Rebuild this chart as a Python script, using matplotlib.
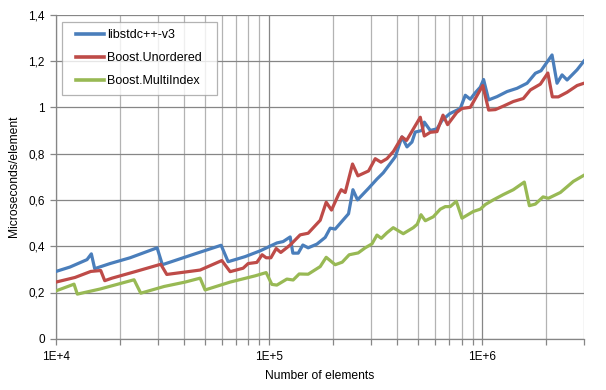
import matplotlib
matplotlib.use("Agg")
import numpy as np
import matplotlib.pyplot as plt
from matplotlib.ticker import LogLocator, FixedLocator, NullFormatter

# ---- data ----
libstd_x = [10000, 11630, 13980, 14650, 15190, 17930, 22260, 29810, 31550, 42570,
            59520, 64200, 77160, 90740, 108700, 116300, 125500, 129200, 136900, 143900,
            152400, 167500, 183200, 193400, 204100, 235700, 247200, 259800, 292600, 320400,
            343000, 390400, 419800, 443200, 467700, 484600, 521300, 534400, 570000, 612900,
            647000, 702300, 788400, 832200, 878500, 927100, 978600, 1014000, 1071000, 1172000,
            1306000, 1455000, 1622000, 1774000, 1886000, 2124000, 2242000, 2367000, 2499000, 2784000,
            3000000]
libstd_y = [0.291, 0.31, 0.342, 0.367, 0.303, 0.325, 0.35, 0.393, 0.32, 0.36,
            0.404, 0.333, 0.355, 0.38, 0.414, 0.42, 0.44, 0.37, 0.37, 0.405,
            0.393, 0.409, 0.438, 0.478, 0.474, 0.54, 0.644, 0.6, 0.65, 0.69,
            0.717, 0.786, 0.872, 0.829, 0.85, 0.893, 0.9, 0.936, 0.9, 0.907,
            0.943, 0.972, 0.995, 1.052, 1.035, 1.063, 1.087, 1.12, 1.032, 1.046,
            1.068, 1.082, 1.104, 1.147, 1.158, 1.226, 1.104, 1.14, 1.118, 1.162,
            1.2]

unordered_x = [10000, 12280, 14560, 16210, 16930, 18320, 23490, 31010, 33090, 47440,
               59970, 65610, 75490, 79690, 87570, 92710, 96810, 101900, 107900, 113400,
               125500, 139800, 152400, 173600, 185200, 196100, 212000, 217800, 227400, 246100,
               260900, 292600, 314600, 334600, 357000, 383300, 419800, 441300, 475900, 511700,
               534400, 570000, 612900, 654100, 687300, 759300, 803000, 878500, 1005000, 1071000,
               1151000, 1255000, 1398000, 1558000, 1681000, 1872000, 2030000, 2131000, 2274000, 2499000,
               2784000, 3000000]
unordered_y = [0.245, 0.265, 0.291, 0.295, 0.251, 0.262, 0.29, 0.322, 0.278, 0.297,
               0.338, 0.29, 0.305, 0.325, 0.33, 0.363, 0.35, 0.35, 0.39, 0.373,
               0.405, 0.449, 0.456, 0.512, 0.59, 0.556, 0.625, 0.644, 0.632, 0.755,
               0.704, 0.725, 0.778, 0.763, 0.778, 0.81, 0.872, 0.857, 0.908, 0.957,
               0.876, 0.892, 0.895, 0.966, 0.925, 0.978, 0.995, 1.0, 1.094, 0.988,
               0.99, 1.005, 1.025, 1.038, 1.075, 1.1, 1.148, 1.045, 1.045, 1.065,
               1.094, 1.104]

multi_x = [10000, 12150, 12590, 16090, 23240, 24980, 32140, 40330, 47440, 50060,
           65610, 85970, 96810, 103000, 108700, 121100, 129600, 138300, 152400, 173600,
           185200, 204100, 220200, 237400, 261700, 282200, 303600, 320400, 335700, 357000,
           382100, 425800, 474400, 495300, 515600, 540200, 588800, 635200, 670400, 707500,
           755000, 803000, 907400, 978600, 1033000, 1126000, 1255000, 1398000, 1574000, 1663000,
           1774000, 1928000, 2042000, 2324000, 2674000, 2980000]
multi_y = [0.207, 0.236, 0.193, 0.215, 0.255, 0.197, 0.226, 0.245, 0.262, 0.211,
           0.245, 0.272, 0.286, 0.235, 0.232, 0.258, 0.254, 0.28, 0.279, 0.312,
           0.352, 0.32, 0.331, 0.363, 0.371, 0.393, 0.41, 0.448, 0.434, 0.458,
           0.48, 0.454, 0.48, 0.495, 0.536, 0.51, 0.527, 0.56, 0.571, 0.571,
           0.594, 0.521, 0.55, 0.56, 0.58, 0.6, 0.623, 0.644, 0.677, 0.575,
           0.582, 0.613, 0.607, 0.632, 0.68, 0.705]

series_names = ["libstdc++-v3", "Boost.Unordered", "Boost.MultiIndex"]
y_ticks = [0, 0.2, 0.4, 0.6, 0.8, 1.0, 1.2, 1.4]
y_tick_labels = ["0", "0,2", "0,4", "0,6", "0,8", "1", "1,2", "1,4"]
x_ticks = [1e4, 1e5, 1e6]
x_tick_labels = ["1E+4", "1E+5", "1E+6"]

colors = ["#4a7ebb", "#be4b48", "#98b954"]
FONT = "Liberation Sans"
plt.rcParams["font.family"] = [FONT, "DejaVu Sans"]

fig = plt.figure(figsize=(6.06, 3.90), dpi=100)
ax = fig.add_axes([56 / 606, 1 - 338.8 / 390, 528 / 606, 324.1 / 390])

for xs, ys, c, name in zip([libstd_x, unordered_x, multi_x],
                           [libstd_y, unordered_y, multi_y], colors, series_names):
    ax.plot(xs, ys, color=c, lw=2.3, label=name, solid_joinstyle="round", zorder=3)

ax.set_xscale("log")
ax.set_xlim(1e4, 3e6)
ax.set_ylim(0, 1.4)

ax.xaxis.set_major_locator(FixedLocator(x_ticks))
ax.set_xticklabels(x_tick_labels)
ax.xaxis.set_minor_locator(LogLocator(base=10, subs=range(2, 10), numticks=20))
ax.xaxis.set_minor_formatter(NullFormatter())
ax.set_yticks(y_ticks)
ax.set_yticklabels(y_tick_labels)

ax.grid(which="major", axis="both", color="#868686", lw=0.9, zorder=0)
ax.grid(which="minor", axis="x", color="#b3b3b3", lw=0.9, zorder=0)

for side in ["top", "right"]:
    ax.spines[side].set_visible(False)
for side in ["left", "bottom"]:
    ax.spines[side].set_color("#868686")
    ax.spines[side].set_linewidth(0.9)

ax.tick_params(axis="both", which="both", direction="out", color="#868686",
               labelsize=8.5, labelcolor="black", width=0.9)
ax.tick_params(axis="x", which="major", length=4, pad=5)
ax.tick_params(axis="x", which="minor", length=4)
ax.tick_params(axis="y", which="major", length=4, pad=4)

ax.set_xlabel("Number of elements", fontsize=8.7, labelpad=5)
ax.set_ylabel("Microseconds/element", fontsize=8.7, labelpad=6)

fs = 9
leg = ax.legend(loc="upper left", bbox_to_anchor=(0.0108, 0.7593, 0.2936, 0.2187),
                mode="expand", borderaxespad=0,
                fontsize=fs, frameon=True, fancybox=False, handlelength=2.8,
                handletextpad=0.24, labelspacing=0.87, borderpad=0.6)
leg.get_frame().set_edgecolor("#a0a0a0")
leg.get_frame().set_linewidth(0.9)
for line in leg.get_lines():
    line.set_linewidth(2.6)
    xd = np.asarray(line.get_xdata(), dtype=float)
    line.set_xdata(np.linspace(xd[0] + 5.0, xd[-1], len(xd)))

fig.savefig("out.png", dpi=100)
